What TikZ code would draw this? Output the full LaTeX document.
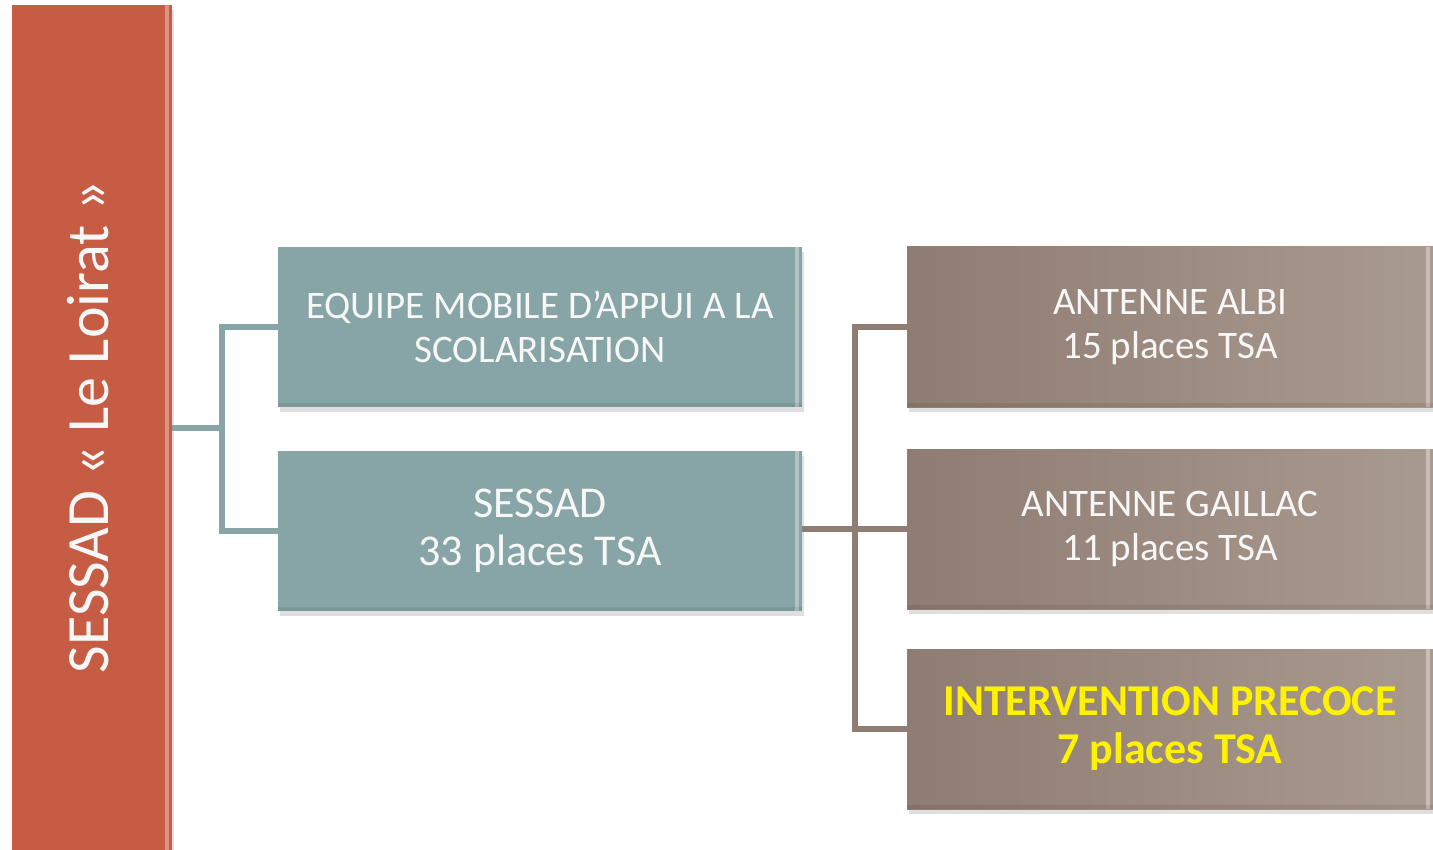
\documentclass[tikz,border=0pt]{standalone}
\usepackage{fontspec}
\setmainfont{Carlito}
\usetikzlibrary{shadows,calc}
\definecolor{orangeb}{HTML}{C55C43}
\definecolor{tealb}{HTML}{87A5A6}
\definecolor{brownb}{HTML}{8F7C72}
\definecolor{brownl}{HTML}{A99A90}
\definecolor{txtw}{HTML}{F7F7F7}
\tikzset{
  bevel/.style={path picture={
      \fill[white,opacity=0.35] ([xshift=-7pt]path picture bounding box.north east) rectangle ([xshift=-3pt]path picture bounding box.south east);
      \fill[black,opacity=0.08] (path picture bounding box.south west) rectangle ([yshift=4pt]path picture bounding box.south east);
  }},
  box/.style={rectangle, inner sep=0pt, align=center, text=txtw,
    drop shadow={shadow xshift=2pt, shadow yshift=-5pt, opacity=0.25}, bevel},
  tealbox/.style={box, fill=tealb, minimum width=524pt, minimum height=160pt},
  brownbox/.style={box, left color=brownb, right color=brownl, minimum width=526pt, minimum height=160pt},
  tealline/.style={draw=tealb, line width=6pt},
  brownline/.style={draw=brownb, line width=6pt},
  smalltxt/.style={font=\fontsize{39}{44}\selectfont},
  bigtxt/.style={font=\fontsize{44}{48}\selectfont},
  boldtxt/.style={font=\bfseries\fontsize{44}{48}\selectfont},
}
\begin{document}
\begin{tikzpicture}[x=1pt,y=-1pt]
\useasboundingbox (0,0) rectangle (1433,850);
% left vertical box
\node[box, fill=orangeb, minimum width=160pt, minimum height=860pt, anchor=north west] (L) at (12,5) {};
\node[rotate=90, text=txtw, font=\fontsize{60}{64}\selectfont] (Lt) at (88,427) {SESSAD « Le Loirat »};
% teal boxes
\node[tealbox, smalltxt] (T1) at (540,327) {EQUIPE MOBILE D’APPUI A LA\\SCOLARISATION};
\node[tealbox, bigtxt] (T2) at (540,531) {SESSAD\\33 places TSA};
% brown boxes
\node[brownbox, smalltxt] (A1) at (1170,327) {ANTENNE ALBI\\15 places TSA};
\node[brownbox, smalltxt] (A2) at (1170,529) {ANTENNE GAILLAC\\11 places TSA};
\node[brownbox, boldtxt, text=yellow] (A3) at (1170,729) {INTERVENTION PRECOCE\\7 places TSA};
% teal connectors
\coordinate (tj) at (222,428);
\draw[tealline] (L.east |- tj) -- (tj);
\draw[tealline] (T1.west) -| (tj);
\draw[tealline] (T2.west) -| (tj);
% brown connectors
\coordinate (bj) at (855,529);
\draw[brownline] (T2.east |- bj) -- (bj);
\draw[brownline] (A1.west) -| (bj);
\draw[brownline] (A2.west) -| (bj);
\draw[brownline] (A3.west) -| (bj);
\end{tikzpicture}
\end{document}
